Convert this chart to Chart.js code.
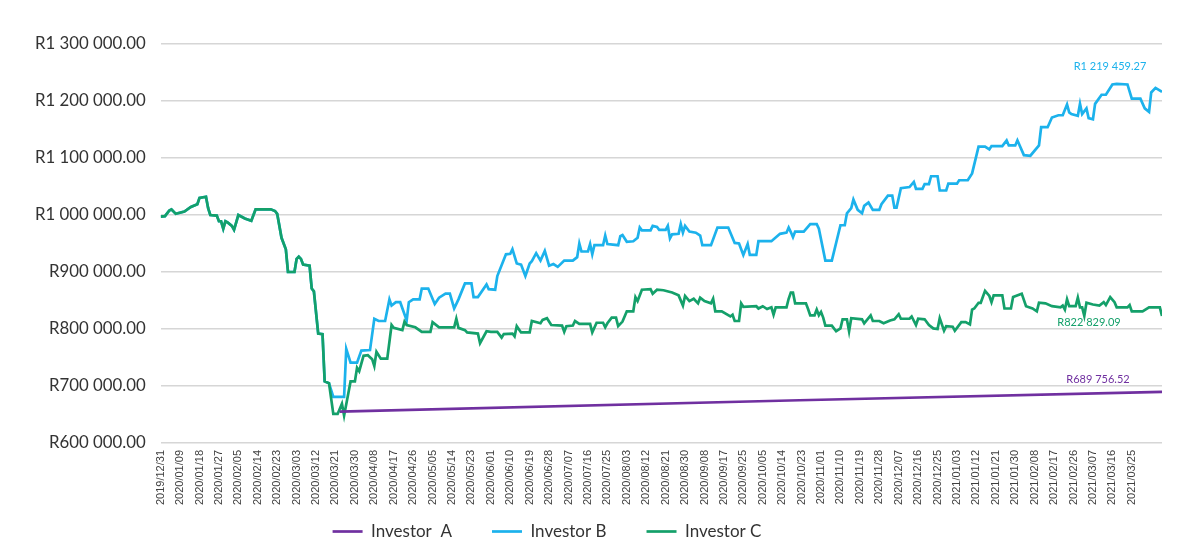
<!DOCTYPE html>
<html>
<head>
<meta charset="utf-8">
<script src="https://cdn.jsdelivr.net/npm/chart.js@4.4.0/dist/chart.umd.min.js"></script>
<style>
  html, body { margin: 0; padding: 0; background: #fff; }
  #wrap { width: 1196px; height: 542px; }
</style>
</head>
<body>
<div id="wrap"><canvas id="chart"></canvas></div>
<script>
// x tick labels, one every 9 days starting at day 0 (2019/12/31)
const tickLabels = ['2019/12/31','2020/01/09','2020/01/18','2020/01/27','2020/02/05','2020/02/14','2020/02/23',
  '2020/03/03','2020/03/12','2020/03/21','2020/03/30','2020/04/08','2020/04/17','2020/04/26','2020/05/05',
  '2020/05/14','2020/05/23','2020/06/01','2020/06/10','2020/06/19','2020/06/28','2020/07/07','2020/07/16',
  '2020/07/25','2020/08/03','2020/08/12','2020/08/21','2020/08/30','2020/09/08','2020/09/17','2020/09/25',
  '2020/10/05','2020/10/14','2020/10/23','2020/11/01','2020/11/10','2020/11/19','2020/11/28','2020/12/07',
  '2020/12/16','2020/12/25','2021/01/03','2021/01/12','2021/01/21','2021/01/30','2021/02/08','2021/02/17',
  '2021/02/26','2021/03/07','2021/03/16','2021/03/25'];

const seriesNames = ['Investor  A', 'Investor B', 'Investor C'];
const endLabels = ['R689 756.52', 'R1 219 459.27', 'R822 829.09'];

// [day, value] pairs; B and C are identical until the March 2020 low
const sharedStart = [[0,997000],[2,998000],[4,1008000],[5,1010000],[7,1002000],[11,1006000],[14,1014000],
  [17,1019000],[18,1030000],[21,1032000],[22,1012000],[23,1000000],[26,999000],[27,989000],[28,989000],
  [29,976000],[30,989000],[31,987000],[33,981000],[34,974000],[36,1000000],[39,994000],[42,990000],
  [44,1010000],[51,1010000],[53,1007000],[54,1002000],[56,960000],[58,940000],[59,900000],[62,900000],
  [63,923000],[64,927000],[65,923000],[66,913000],[69,911000],[70,871000],[71,866000],[73,792000],
  [75,791000],[76,708000],[78,705000]];

const investorA = [[83,655000],[296,675000],[464,689757]];

const investorBRest = [[80,681000],[85,681000],[86,765000],[88,741000],[91,741000],[93,762000],[97,763000],
  [99,818000],[101,814000],[104,814000],[106,852000],[107,841000],[109,847000],[111,847000],[114,815000],
  [115,847000],[117,852000],[120,852000],[121,871000],[124,871000],[127,844000],[129,855000],[132,862000],
  [134,862000],[136,836000],[138,852000],[141,880000],[144,880000],[145,856000],[147,856000],[151,878000],
  [152,870000],[155,869000],[156,893000],[160,931000],[162,932000],[163,940000],[165,915000],[167,913000],
  [169,893000],[171,915000],[172,919000],[174,933000],[176,920000],[178,937000],[180,911000],[182,914000],
  [184,909000],[187,920000],[191,920000],[193,926000],[194,950000],[195,936000],[198,936000],[199,949000],
  [200,931000],[201,947000],[205,947000],[206,964000],[207,949000],[212,947000],[213,963000],[214,965000],
  [216,953000],[219,954000],[221,960000],[222,978000],[223,973000],[227,973000],[228,981000],[230,979000],
  [231,974000],[234,974000],[235,981000],[236,959000],[237,966000],[240,967000],[241,984000],[242,969000],
  [243,981000],[245,971000],[248,969000],[250,964000],[251,947000],[255,947000],[258,978000],[263,978000],
  [266,951000],[268,950000],[270,930000],[272,949000],[273,930000],[276,930000],[277,954000],[283,954000],
  [287,967000],[290,969000],[291,978000],[292,970000],[293,961000],[294,971000],[298,971000],[301,984000],
  [304,984000],[305,976000],[308,920000],[311,920000],[315,982000],[317,982000],[318,1003000],[320,1012000],
  [321,1027000],[323,1009000],[325,1003000],[326,1016000],[328,1022000],[330,1009000],[333,1009000],
  [334,1019000],[337,1034000],[339,1034000],[340,1013000],[341,1013000],[343,1047000],[347,1049000],
  [349,1058000],[350,1046000],[353,1046000],[354,1054000],[356,1054000],[357,1068000],[360,1068000],
  [361,1043000],[364,1043000],[365,1055000],[369,1055000],[370,1061000],[374,1061000],[376,1073000],
  [379,1120000],[382,1120000],[384,1115000],[385,1121000],[390,1121000],[392,1131000],[393,1122000],
  [396,1122000],[397,1131000],[400,1105000],[403,1104000],[407,1122000],[408,1154000],[411,1154000],
  [413,1171000],[416,1175000],[418,1175000],[420,1194000],[421,1180000],[422,1177000],[425,1174000],
  [426,1195000],[427,1177000],[429,1187000],[430,1170000],[432,1168000],[433,1195000],[436,1211000],
  [438,1211000],[441,1229000],[443,1230000],[448,1229000],[450,1204000],[454,1204000],[456,1187000],
  [458,1181000],[459,1215000],[461,1223000],[464,1216000]];

const investorCRest = [[80,651000],[82,651000],[84,669000],[85,648000],[88,708000],[90,708000],[91,732000],
  [92,726000],[94,753000],[96,754000],[98,747000],[99,735000],[100,760000],[102,748000],[105,748000],
  [107,807000],[108,802000],[112,798000],[113,813000],[114,807000],[118,803000],[121,795000],[125,795000],
  [126,812000],[129,803000],[136,803000],[137,818000],[138,802000],[141,798000],[142,794000],[147,792000],
  [148,775000],[151,796000],[153,795000],[156,795000],[158,785000],[159,791000],[163,792000],[164,787000],
  [165,805000],[167,794000],[171,794000],[172,814000],[176,810000],[177,816000],[179,819000],[181,807000],
  [186,806000],[187,795000],[188,805000],[191,806000],[192,814000],[194,809000],[199,809000],[200,794000],
  [202,811000],[205,811000],[206,803000],[207,810000],[209,820000],[211,820000],[212,805000],[214,813000],
  [216,831000],[219,831000],[220,856000],[221,849000],[223,869000],[227,870000],[228,862000],[230,869000],
  [233,868000],[237,864000],[240,859000],[242,841000],[243,858000],[245,849000],[247,853000],[249,845000],
  [250,855000],[252,849000],[255,845000],[256,853000],[257,831000],[260,831000],[264,822000],[265,825000],
  [266,814000],[268,814000],[269,845000],[270,839000],[276,840000],[277,836000],[279,840000],[281,835000],
  [283,838000],[284,825000],[285,838000],[290,838000],[291,853000],[292,864000],[293,864000],[294,845000],
  [299,845000],[300,835000],[301,824000],[303,824000],[304,834000],[305,824000],[306,830000],[307,820000],
  [308,806000],[311,806000],[313,796000],[315,801000],[316,817000],[318,817000],[319,796000],[320,819000],
  [325,817000],[326,810000],[329,824000],[330,814000],[333,814000],[335,810000],[338,815000],[340,817000],
  [342,826000],[343,818000],[347,818000],[348,822000],[350,807000],[351,818000],[354,817000],[356,807000],
  [358,801000],[360,800000],[361,819000],[363,797000],[364,805000],[367,804000],[368,797000],[371,812000],
  [373,812000],[375,808000],[376,834000],[377,836000],[379,846000],[380,846000],[382,867000],[384,858000],
  [385,847000],[386,859000],[390,859000],[391,836000],[394,836000],[395,856000],[399,862000],[401,840000],
  [404,836000],[406,831000],[407,846000],[410,845000],[413,840000],[417,838000],[418,841000],[419,834000],
  [420,852000],[421,840000],[424,840000],[425,855000],[426,838000],[427,838000],[428,823000],[429,846000],
  [432,843000],[435,841000],[437,847000],[438,842000],[440,856000],[442,847000],[443,838000],[448,838000],
  [449,842000],[450,831000],[455,831000],[458,838000],[463,838000],[464,823000]];

const investorB = sharedStart.concat(investorBRest);
const investorC = sharedStart.concat(investorCRest);

const colors = ['#7030A0', '#1CB2EC', '#14A06A'];
// where each end value label sits relative to the last point of its line
const endLabelOffsets = [[-64, -12], [-52, -25], [-73, 7]];

function toPoints(pairs) {
    return pairs.map(p => ({ x: p[0], y: p[1] }));
}

function formatRand(v) {
    const s = Math.round(v).toString().replace(/\B(?=(\d{3})+(?!\d))/g, ' ');
    return 'R' + s + '.00';
}

// value labels at the end of each line
const endLabelPlugin = {
    id: 'endLabels',
    afterDatasetsDraw(chart) {
        const ctx = chart.ctx;
        chart.data.datasets.forEach((ds, i) => {
            const pts = chart.getDatasetMeta(i).data;
            const last = pts[pts.length - 1];
            const off = endLabelOffsets[i];
            ctx.save();
            ctx.font = '11px Lato';
            ctx.fillStyle = ds.borderColor;
            ctx.textAlign = 'center';
            ctx.textBaseline = 'middle';
            ctx.fillText(endLabels[i], last.x + off[0], last.y + off[1]);
            ctx.restore();
        });
    }
};

// legend in the original sits left of centre and close under the date labels
const legendShift = {
    id: 'legendShift',
    afterLayout(chart) {
        const lg = chart.legend;
        lg.left -= 44;
        lg.right -= 44;
        lg.top -= 24;
        lg.bottom -= 24;
    }
};

const data = [investorA, investorB, investorC];

new Chart(document.getElementById('chart'), {
    type: 'line',
    data: {
        datasets: data.map((d, i) => ({
            label: seriesNames[i],
            data: toPoints(d),
            borderColor: colors[i],
            backgroundColor: colors[i],
            borderWidth: 2.7,
            pointRadius: 0,
            tension: 0,
            order: [0, 2, 1][i]
        }))
    },
    options: {
        responsive: true,
        maintainAspectRatio: false,
        animation: false,
        devicePixelRatio: 1,
        layout: { padding: { top: 44, right: 34, bottom: -32, left: 20 } },
        plugins: {
            tooltip: { enabled: false },
            legend: {
                position: 'bottom',
                labels: {
                    usePointStyle: true,
                    pointStyle: 'line',
                    pointStyleWidth: 30,
                    padding: 40,
                    color: '#333333',
                    font: { family: 'Lato', size: 17 },
                    sort: (a, b) => a.datasetIndex - b.datasetIndex
                }
            }
        },
        scales: {
            x: {
                type: 'linear',
                min: 0,
                max: 464,
                grid: { display: false, drawTicks: false },
                border: { display: false },
                afterBuildTicks: (scale) => {
                    scale.ticks = tickLabels.map((_, i) => ({ value: i * 9 }));
                },
                afterFit: (scale) => { scale.height = 64; },
                ticks: {
                    autoSkip: false,
                    minRotation: 90,
                    maxRotation: 90,
                    padding: 7,
                    color: '#404040',
                    font: { family: 'Liberation Sans', size: 11 },
                    callback: (v, i) => tickLabels[i]
                }
            },
            y: {
                min: 600000,
                max: 1300000,
                border: { display: false },
                grid: { color: '#d6d6d6', lineWidth: 1.5, drawTicks: false },
                ticks: {
                    stepSize: 100000,
                    padding: 15,
                    color: '#333333',
                    font: { family: 'Lato', size: 16.8 },
                    callback: (v) => formatRand(v)
                }
            }
        }
    },
    plugins: [endLabelPlugin, legendShift]
});
</script>
</body>
</html>
